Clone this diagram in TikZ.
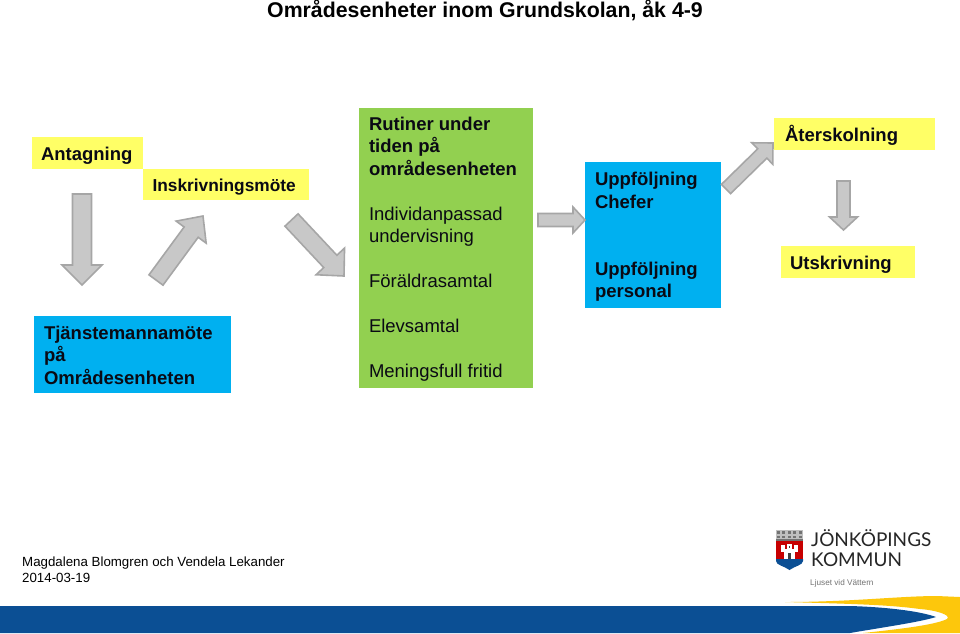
\documentclass[tikz,border=0pt]{standalone}
\usepackage{fontspec}
\setmainfont{Liberation Sans}
\newfontfamily\logofont{Lato}
\usetikzlibrary{calc}
\definecolor{boxyellow}{HTML}{FFFF66}
\definecolor{boxblue}{HTML}{00B0F0}
\definecolor{boxgreen}{HTML}{92D050}
\definecolor{bandblue}{HTML}{0B4F94}
\definecolor{swoosh}{HTML}{FDC70C}
\definecolor{arrowfill}{HTML}{C8C8C8}
\definecolor{arrowline}{HTML}{A6A6A6}
\definecolor{inktext}{HTML}{0A0A14}
\tikzset{
  lab/.style={anchor=base west,inner sep=0pt,outer sep=0pt,text=inktext,font=\fontsize{18.5}{22.5}\selectfont\bfseries},
  reglab/.style={lab,font=\fontsize{18.5}{22.5}\selectfont},
  footlab/.style={anchor=base west,inner sep=0pt,text=black,font=\fontsize{13.3}{16}\selectfont},
  blockst/.style={draw=arrowline,fill=arrowfill,line width=1.6pt,line join=miter},
}
\newcommand{\blockarrow}[5]{%
  \draw[blockst]
    ($(#1)!#3pt!90:(#2)$) --
    ($($(#2)!#5pt!(#1)$)!#3pt!90:(#2)$) --
    ($($(#2)!#5pt!(#1)$)!#4pt!90:(#2)$) --
    (#2) --
    ($($(#2)!#5pt!(#1)$)!#4pt!-90:(#2)$) --
    ($($(#2)!#5pt!(#1)$)!#3pt!-90:(#2)$) --
    ($(#1)!#3pt!-90:(#2)$) -- cycle;
}
\newcommand{\boxat}[6]{% name, colour, x0,y0,x1,y1
  \fill[#2] (#3,#4) rectangle (#5,#6);
  \coordinate (#1) at (#3,#4);
}
\begin{document}
\begin{tikzpicture}[x=1pt,y=-1pt]
\useasboundingbox (0,0) rectangle (960,633);
\fill[white] (0,0) rectangle (960,633);
% boxes
\boxat{antag}{boxyellow}{32}{137}{143}{169}
\boxat{inskr}{boxyellow}{143}{169}{309}{200}
\boxat{tjan}{boxblue}{34}{316}{231}{393}
\boxat{rutin}{boxgreen}{359}{108}{533}{388}
\boxat{uppf}{boxblue}{585}{162}{721}{308}
\boxat{ater}{boxyellow}{774}{118}{935}{150}
\boxat{utsk}{boxyellow}{781}{246}{915}{278}
% title
\node[anchor=base west,inner sep=0pt,text=black,font=\fontsize{21.3}{26}\selectfont\bfseries] (title) at (267,17) {Områdesenheter inom Grundskolan, åk 4-9};
% labels
\node[lab] (l1) at (41,160) {Antagning};
\node[lab,font=\fontsize{17.3}{20}\selectfont\bfseries] (l2) at (152.5,191) {Inskrivningsmöte};
\node[lab] (l3) at (44,339) {Tjänstemannamöte};
\node[lab] (l4) at (44,361.5) {på};
\node[lab] (l5) at (44,384) {Områdesenheten};
\node[lab] (g1) at (369,130) {Rutiner under};
\node[lab] (g2) at (369,152.5) {tiden på};
\node[lab] (g3) at (369,175) {områdesenheten};
\node[reglab] (g4) at (369,220) {Individanpassad};
\node[reglab] (g5) at (369,242.5) {undervisning};
\node[reglab] (g6) at (369,287.5) {Föräldrasamtal};
\node[reglab] (g7) at (369,332) {Elevsamtal};
\node[reglab] (g8) at (369,377) {Meningsfull fritid};
\node[lab] (u1) at (595,185) {Uppföljning};
\node[lab] (u2) at (595,208) {Chefer};
\node[lab] (u3) at (595,275) {Uppföljning};
\node[lab] (u4) at (595,297.5) {personal};
\node[lab] (a1) at (785,141) {Återskolning};
\node[lab] (a2) at (790,269) {Utskrivning};
% arrows
\coordinate (t1) at (82,194);   \coordinate (h1) at (82,285);
\coordinate (t2) at (156,280);  \coordinate (h2) at (203,216);
\coordinate (t3) at (291.5,220);\coordinate (h3) at (344,276);
\coordinate (t4) at (538,220);  \coordinate (h4) at (585,220);
\coordinate (t5) at (726,189);  \coordinate (h5) at (773,143);
\coordinate (t6) at (843.5,181);\coordinate (h6) at (843.5,230);
\blockarrow{t1}{h1}{9.5}{20}{20}
\blockarrow{t2}{h2}{8.7}{18.6}{20}
\blockarrow{t3}{h3}{9}{19.5}{20}
\blockarrow{t4}{h4}{6.5}{13}{12}
\blockarrow{t5}{h5}{6.5}{15}{15}
\blockarrow{t6}{h6}{6.5}{14}{13}
% footer text
\node[footlab] (f1) at (22,566) {Magdalena Blomgren och Vendela Lekander};
\node[footlab] (f2) at (22,582) {2014-03-19};
% band
\fill[bandblue] (0,606) -- (850,606) .. controls (885,607) and (920,611) .. (936,617)
  .. controls (920,622) and (885,627) .. (850,633) -- (0,633) -- cycle;
\fill[swoosh] (785,602) .. controls (850,602) and (900,596) .. (937,596) -- (960,597) -- (960,633) -- (863,633)
  .. controls (900,629) and (935,625) .. (947,619) .. controls (952,615) and (935,610) .. (920,609) .. controls (890,605) and (860,604) .. (785,602) -- cycle;
% logo: crown
\fill[black!25] (776,530) rectangle (803,541);
\foreach \cx in {778,783.5,789,794.5,800}{
  \fill[black!55] (\cx-1.5,531) rectangle (\cx+1.5,533.5);
  \fill[black!55] (\cx-1.5,535.5) rectangle (\cx+1.5,538);
}
\fill[black!55] (776,539) rectangle (803,541);
% logo: shield
\fill[red!78!black] (776,541) -- (803,541) -- (803,561) -- (776,561) -- cycle;
\fill[bandblue] (776,559) -- (803,559) -- (803,561) .. controls (803,565) and (795,566) .. (789.5,570) .. controls (784,566) and (776,565) .. (776,561) -- cycle;
\fill[white] (784,549) rectangle (795,559);
\fill[white] (781,545) rectangle (785,552);
\fill[white] (794,545) rectangle (798,552);
\fill[white] (787,544) rectangle (792,549);
\fill[black!75] (788,553) rectangle (791,559);
\fill[black!75] (788.7,546) rectangle (790.3,548);
% logo: text
\node[anchor=base west,inner sep=0pt,text=black!85,font=\logofont\fontsize{19}{22}\selectfont] (k1) at (811,546.5) {JÖNKÖPINGS};
\node[anchor=base west,inner sep=0pt,text=black!85,font=\logofont\fontsize{19}{22}\selectfont] (k2) at (811,566) {KOMMUN};
\node[anchor=base west,inner sep=0pt,text=black!55,font=\fontsize{8.2}{10}\selectfont] (k3) at (810,585.5) {Ljuset vid Vättern};
\end{tikzpicture}
\end{document}
